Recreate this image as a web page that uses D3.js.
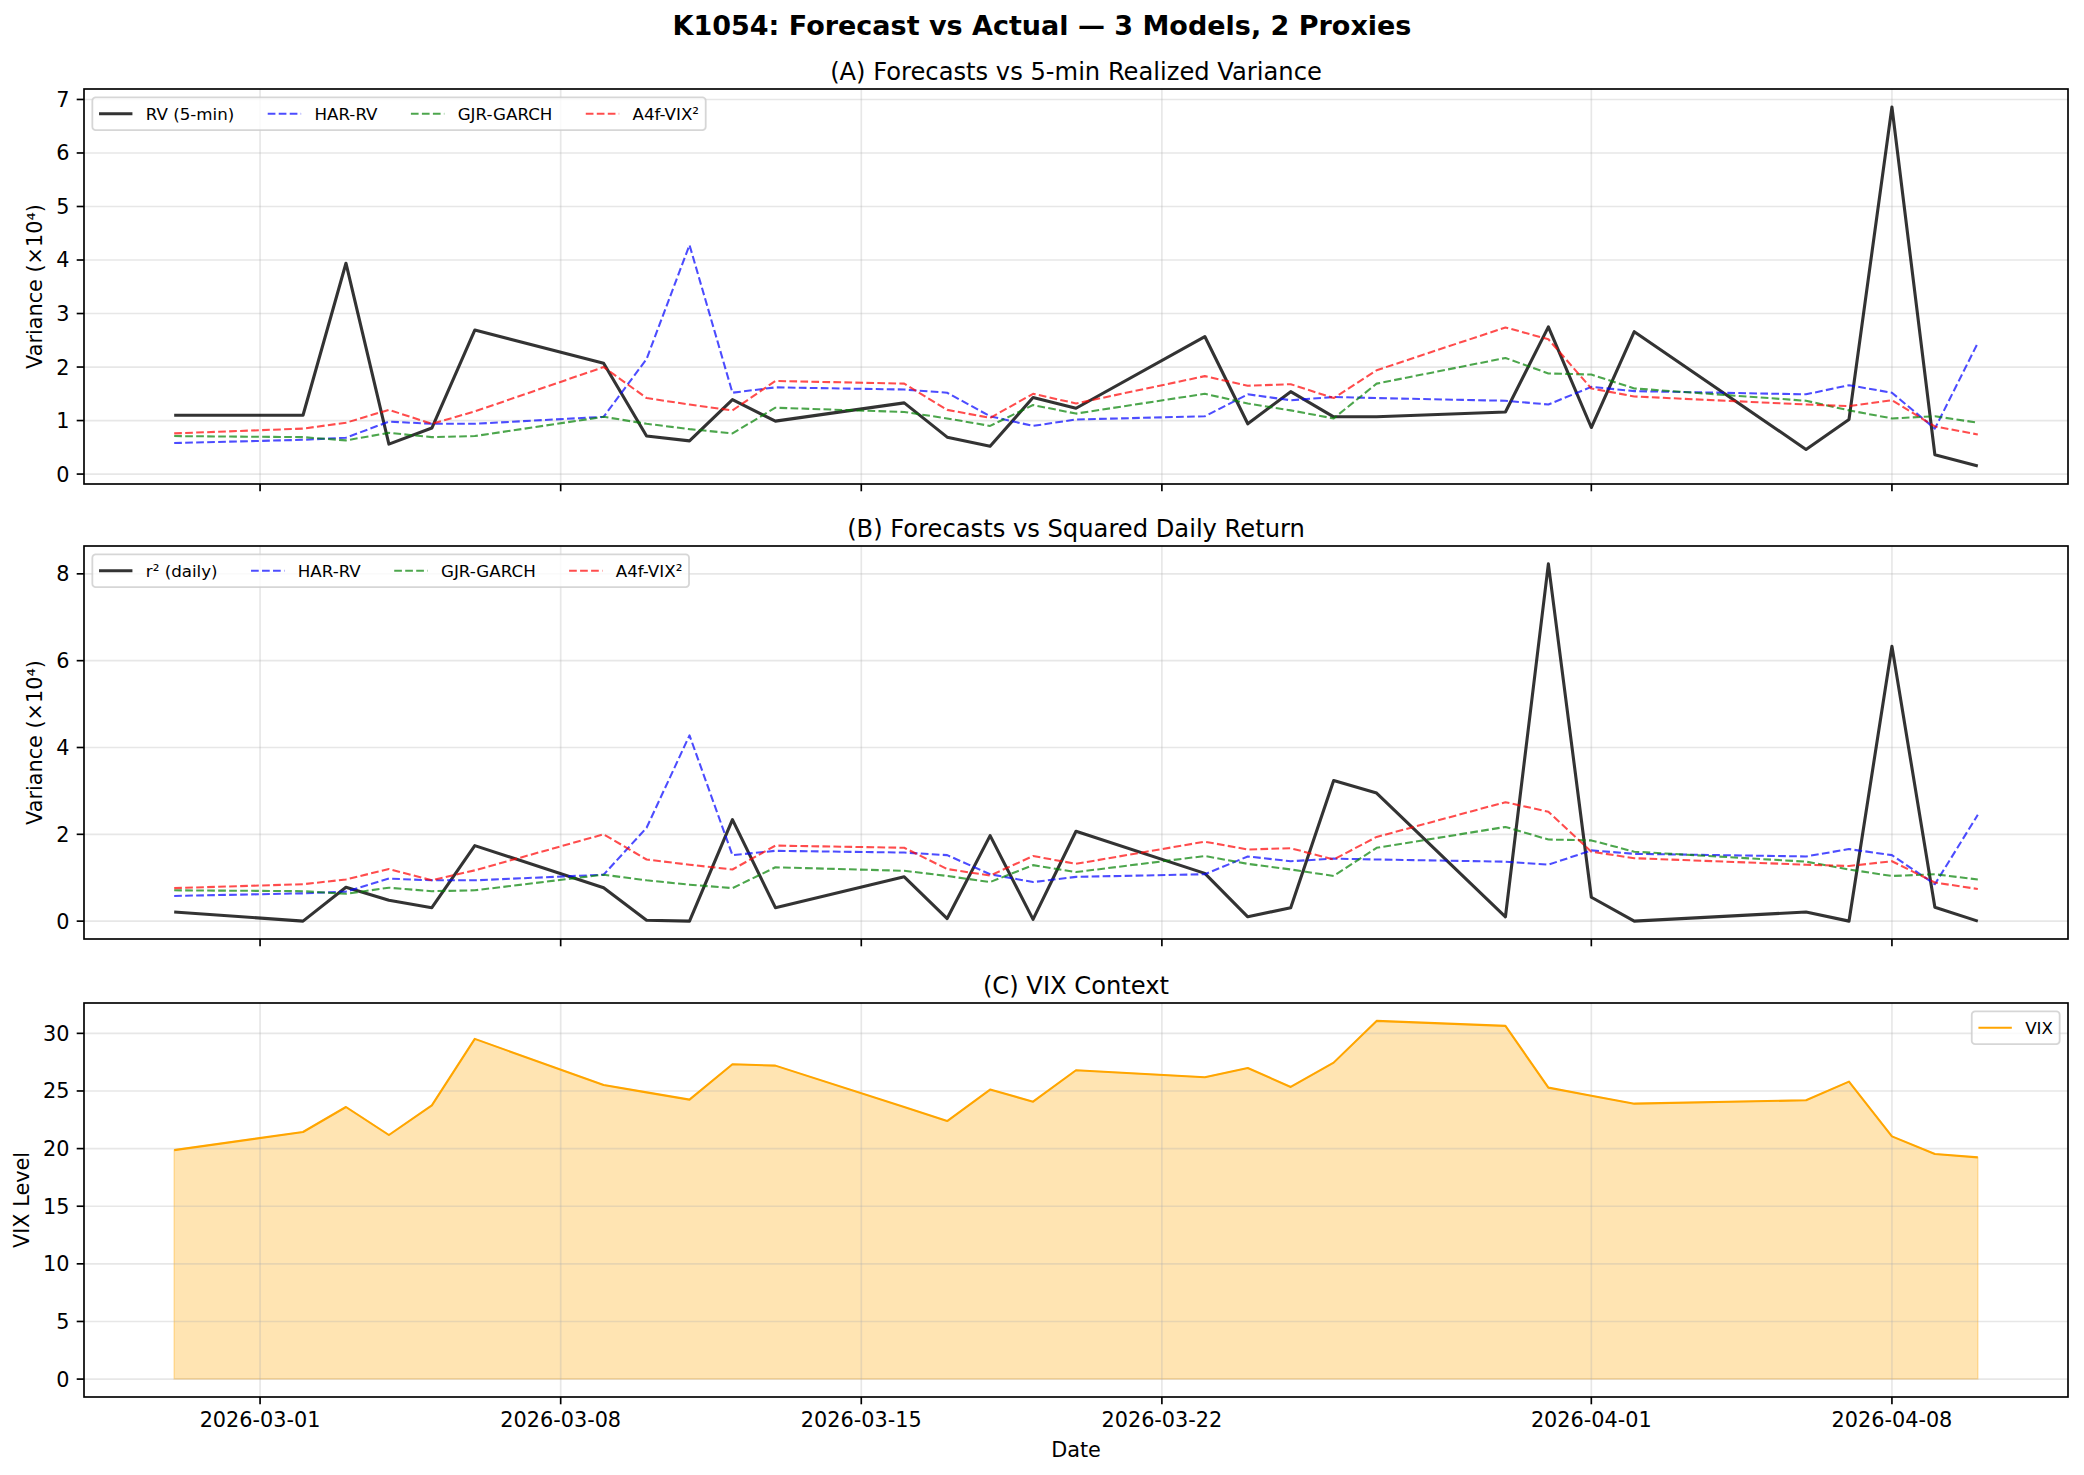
<!DOCTYPE html>
<html lang="en">
<head>
<meta charset="UTF-8" />
<title>K1054: Forecast vs Actual</title>
<script src="https://cdn.jsdelivr.net/npm/d3@7"></script>
<style>
  html, body { margin: 0; padding: 0; background: #fff; }
  svg { display: block; }
  text { font-family: "DejaVu Sans", sans-serif; fill: #000; }
</style>
</head>
<body>
<script>
// ----------------------------
// Data
// ----------------------------
const dates = [
  "2026-02-27", "2026-03-02", "2026-03-03", "2026-03-04", "2026-03-05", "2026-03-06",
  "2026-03-09", "2026-03-10", "2026-03-11", "2026-03-12", "2026-03-13",
  "2026-03-16", "2026-03-17", "2026-03-18", "2026-03-19", "2026-03-20",
  "2026-03-23", "2026-03-24", "2026-03-25", "2026-03-26", "2026-03-27",
  "2026-03-30", "2026-03-31", "2026-04-01", "2026-04-02",
  "2026-04-06", "2026-04-07", "2026-04-08", "2026-04-09", "2026-04-10"
];
const rv5 = [1.10, 1.10, 3.94, 0.56, 0.86, 2.69, 2.07, 0.71, 0.62, 1.39, 0.99,
  1.33, 0.69, 0.52, 1.43, 1.23, 2.57, 0.94, 1.54, 1.07, 1.07,
  1.16, 2.75, 0.87, 2.66, 0.46, 1.02, 6.86, 0.36, 0.15];
const r2daily = [0.21, 0.00, 0.78, 0.48, 0.31, 1.74, 0.77, 0.02, 0.00, 2.34, 0.31,
  1.02, 0.06, 1.97, 0.04, 2.07, 1.10, 0.10, 0.31, 3.24, 2.95,
  0.10, 8.23, 0.55, 0.00, 0.21, 0.00, 6.33, 0.32, 0.00];
const harRv = [0.58, 0.64, 0.68, 0.98, 0.94, 0.94, 1.07, 2.15, 4.28, 1.52, 1.62,
  1.58, 1.52, 1.08, 0.90, 1.02, 1.08, 1.49, 1.38, 1.44, 1.42,
  1.37, 1.30, 1.63, 1.55, 1.49, 1.66, 1.52, 0.85, 2.45];
const gjrGarch = [0.71, 0.69, 0.63, 0.77, 0.69, 0.71, 1.07, 0.94, 0.84, 0.76, 1.24,
  1.16, 1.04, 0.90, 1.29, 1.13, 1.50, 1.32, 1.19, 1.04, 1.69,
  2.17, 1.88, 1.86, 1.60, 1.37, 1.19, 1.04, 1.08, 0.96];
const a4fVix2 = [0.76, 0.85, 0.96, 1.20, 0.94, 1.17, 2.00, 1.42, 1.30, 1.19, 1.74,
  1.69, 1.20, 1.05, 1.50, 1.32, 1.83, 1.65, 1.68, 1.42, 1.94,
  2.74, 2.52, 1.60, 1.45, 1.30, 1.27, 1.38, 0.89, 0.74];
const vix = [19.87, 21.44, 23.61, 21.18, 23.75, 29.52, 25.52, 24.88, 24.25, 27.32, 27.20,
  23.60, 22.39, 25.12, 24.07, 26.80, 26.19, 27.00, 25.35, 27.46, 31.08,
  30.65, 25.29, 24.59, 23.90, 24.19, 25.81, 21.06, 19.53, 19.24];

const xTickLabels = ["2026-03-01", "2026-03-08", "2026-03-15", "2026-03-22", "2026-04-01", "2026-04-08"];
const yTicksA = [0, 1, 2, 3, 4, 5, 6, 7];
const yTicksB = [0, 2, 4, 6, 8];
const yTicksC = [0, 5, 10, 15, 20, 25, 30];

// ----------------------------
// Layout
// ----------------------------
const width = 2084, height = 1475;
const left = 84, right = 2068;
const FS = { tick: 20.8, label: 20.8, title: 24.2, suptitle: 27, legend: 16.7 };
const tickLen = 7.3, tickPad = 7.3, labelPad = 8.3;

const svg = d3.select("body").append("svg")
  .attr("width", width).attr("height", height)
  .style("background", "#fff");

const parse = d3.utcParse("%Y-%m-%d");
const days = dates.map(parse);
const t0 = +days[0], t1 = +days[days.length - 1];
const span = t1 - t0;
const x = d3.scaleUtc()
  .domain([new Date(t0 - span * 0.05), new Date(t1 + span * 0.05)])
  .range([left, right]);
const xTicks = xTickLabels.map(parse);

// series styles
const actualStyle = { color: "#000", opacity: 0.8, width: 3.1, dash: null };
const models = [
  { name: "HAR-RV", values: harRv, color: "blue", opacity: 0.7, width: 2.08, dash: "7.7,3.3" },
  { name: "GJR-GARCH", values: gjrGarch, color: "green", opacity: 0.7, width: 2.08, dash: "7.7,3.3" },
  { name: "A4f-VIX²", values: a4fVix2, color: "red", opacity: 0.7, width: 2.08, dash: "7.7,3.3" }
];

const panels = [
  { top: 89, bottom: 484, title: "(A) Forecasts vs 5-min Realized Variance",
    yLabel: "Variance (×10⁴)", yTicks: yTicksA, legend: "left",
    series: [Object.assign({ name: "RV (5-min)", values: rv5 }, actualStyle), ...models] },
  { top: 546, bottom: 939, title: "(B) Forecasts vs Squared Daily Return",
    yLabel: "Variance (×10⁴)", yTicks: yTicksB, legend: "left",
    series: [Object.assign({ name: "r² (daily)", values: r2daily }, actualStyle), ...models] },
  { top: 1003, bottom: 1397, title: "(C) VIX Context",
    yLabel: "VIX Level", yTicks: yTicksC, legend: "right", fill: true, xLabels: true,
    series: [{ name: "VIX", values: vix, color: "orange", opacity: 1, width: 2.08, dash: null }] }
];

// suptitle
svg.append("text")
  .attr("x", width / 2).attr("y", 35)
  .attr("text-anchor", "middle")
  .style("font-size", FS.suptitle + "px").style("font-weight", "bold")
  .text("K1054: Forecast vs Actual — 3 Models, 2 Proxies");

function drawLegend(g, items, anchor, p) {
  const fs = FS.legend;
  const pad = 0.4 * fs, handleLen = 2 * fs, handlePad = 0.8 * fs, colSpace = 2 * fs;
  const rowH = 1.164 * fs;
  const lg = g.append("g");
  const frame = lg.append("rect");
  let cx = pad;
  const cy = pad + rowH / 2;
  items.forEach((s, i) => {
    lg.append("line")
      .attr("x1", cx).attr("x2", cx + handleLen)
      .attr("y1", cy).attr("y2", cy)
      .attr("stroke", s.color).attr("stroke-opacity", s.opacity)
      .attr("stroke-width", s.width)
      .attr("stroke-dasharray", s.dash);
    const t = lg.append("text")
      .attr("x", cx + handleLen + handlePad).attr("y", cy + 0.37 * fs)
      .style("font-size", fs + "px")
      .text(s.name);
    cx += handleLen + handlePad + t.node().getComputedTextLength();
    if (i < items.length - 1) cx += colSpace;
  });
  const w = cx + pad, h = rowH + 2 * pad;
  frame.attr("width", w).attr("height", h)
    .attr("rx", 0.2 * fs).attr("ry", 0.2 * fs)
    .attr("fill", "#fff").attr("fill-opacity", 0.8)
    .attr("stroke", "#cccccc").attr("stroke-opacity", 0.8)
    .attr("stroke-width", 1.8);
  const bx = anchor === "left" ? left + 0.5 * fs : right - 0.5 * fs - w;
  lg.attr("transform", `translate(${bx},${p.top + 0.5 * fs})`);
}

panels.forEach(p => {
  const g = svg.append("g");
  const all = p.series.flatMap(s => s.values);
  let lo = d3.min(all), hi = d3.max(all);
  if (p.fill) lo = Math.min(lo, 0);
  const padY = (hi - lo) * 0.05;
  const y = d3.scaleLinear().domain([lo - padY, hi + padY]).range([p.bottom, p.top]);

  // fill under VIX
  if (p.fill) {
    const s = p.series[0];
    const area = d3.area()
      .x((d, i) => x(days[i]))
      .y0(y(0))
      .y1(d => y(d));
    g.append("path")
      .attr("d", area(s.values))
      .attr("fill", s.color).attr("fill-opacity", 0.3)
      .attr("stroke", s.color).attr("stroke-opacity", 0.3).attr("stroke-width", 1.5);
  }

  // grid
  const grid = g.append("g")
    .attr("stroke", "#b0b0b0").attr("stroke-opacity", 0.3).attr("stroke-width", 1.67);
  grid.selectAll(".gx").data(xTicks).join("line")
    .attr("x1", d => x(d)).attr("x2", d => x(d))
    .attr("y1", p.top).attr("y2", p.bottom);
  grid.selectAll(".gy").data(p.yTicks).join("line")
    .attr("x1", left).attr("x2", right)
    .attr("y1", d => y(d)).attr("y2", d => y(d));

  // lines
  const line = d3.line().x((d, i) => x(days[i])).y(d => y(d));
  p.series.forEach(s => {
    g.append("path")
      .attr("d", line(s.values))
      .attr("fill", "none")
      .attr("stroke", s.color).attr("stroke-opacity", s.opacity)
      .attr("stroke-width", s.width)
      .attr("stroke-linejoin", "round")
      .attr("stroke-dasharray", s.dash);
  });

  // spines
  g.append("rect")
    .attr("x", left).attr("y", p.top)
    .attr("width", right - left).attr("height", p.bottom - p.top)
    .attr("fill", "none").attr("stroke", "#000").attr("stroke-width", 1.67);

  // x ticks
  g.selectAll(".xt").data(xTicks).join("line")
    .attr("x1", d => x(d)).attr("x2", d => x(d))
    .attr("y1", p.bottom).attr("y2", p.bottom + tickLen)
    .attr("stroke", "#000").attr("stroke-width", 1.67);
  if (p.xLabels) {
    g.selectAll(".xl").data(xTicks).join("text")
      .attr("x", d => x(d)).attr("y", p.bottom + tickLen + tickPad + 0.76 * FS.tick)
      .attr("text-anchor", "middle")
      .style("font-size", FS.tick + "px")
      .text(d3.utcFormat("%Y-%m-%d"));
    svg.append("text")
      .attr("x", (left + right) / 2).attr("y", 1457)
      .attr("text-anchor", "middle")
      .style("font-size", FS.label + "px")
      .text("Date");
  }

  // y ticks
  g.selectAll(".yt").data(p.yTicks).join("line")
    .attr("x1", left - tickLen).attr("x2", left)
    .attr("y1", d => y(d)).attr("y2", d => y(d))
    .attr("stroke", "#000").attr("stroke-width", 1.67);
  const yl = g.selectAll(".yl").data(p.yTicks).join("text")
    .attr("x", left - tickLen - tickPad).attr("y", d => y(d))
    .attr("dy", "0.36em")
    .attr("text-anchor", "end")
    .style("font-size", FS.tick + "px")
    .text(d => d);
  const maxW = d3.max(yl.nodes(), n => n.getComputedTextLength());

  // y label
  const lx = left - tickLen - tickPad - maxW - labelPad - 0.236 * FS.label - 1;
  const cy = (p.top + p.bottom) / 2;
  g.append("text")
    .attr("transform", `translate(${lx},${cy}) rotate(-90)`)
    .attr("text-anchor", "middle")
    .style("font-size", FS.label + "px")
    .text(p.yLabel);

  // title
  g.append("text")
    .attr("x", (left + right) / 2).attr("y", p.top - 9.3)
    .attr("text-anchor", "middle")
    .style("font-size", FS.title + "px")
    .text(p.title);

  drawLegend(g, p.series, p.legend, p);
});
</script>
</body>
</html>
